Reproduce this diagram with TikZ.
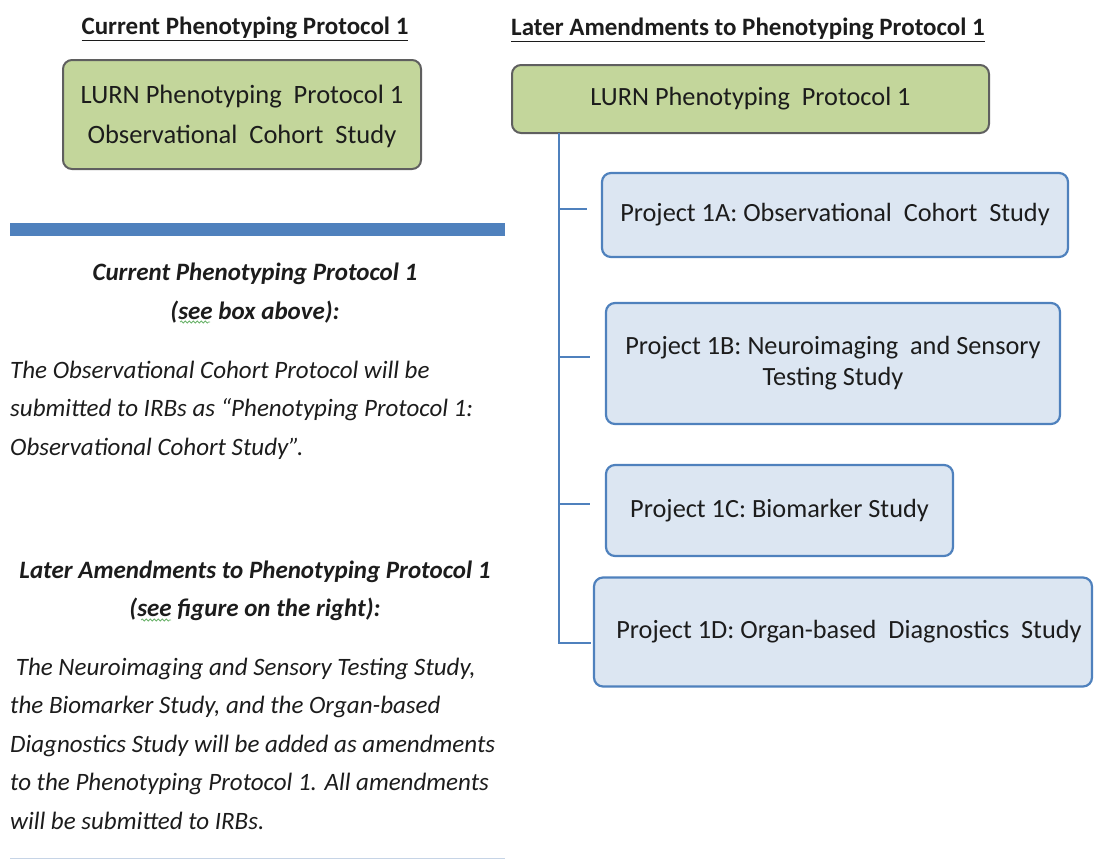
\documentclass[tikz,border=0pt]{standalone}
\usepackage{fontspec}
\setmainfont{Carlito}
\usetikzlibrary{decorations.pathmorphing}
\definecolor{boxgreen}{HTML}{C3D69B}
\definecolor{boxgray}{HTML}{5F5F5F}
\definecolor{boxblue}{HTML}{DCE6F2}
\definecolor{lineblue}{HTML}{4F81BD}
\definecolor{rulegray}{HTML}{C6D4E6}
\definecolor{inkblack}{HTML}{1C1C1C}
\definecolor{spellgreen}{HTML}{6BB36B}
\tikzset{
  protocol/.style={draw=boxgray, line width=2pt, fill=boxgreen, rounded corners=9pt,
    text=inkblack, align=center, font=\fontsize{26.5}{40}\selectfont},
  project/.style={draw=lineblue, line width=2.2pt, fill=boxblue, rounded corners=9pt,
    text=inkblack, align=center, font=\fontsize{26.3}{31}\selectfont},
  branch/.style={draw=lineblue, line width=2.6pt},
  heading/.style={text=inkblack, font=\fontsize{25}{28}\selectfont\bfseries, inner sep=0pt},
  note/.style={text=inkblack, inner sep=0pt, align=left,
    font=\fontsize{25}{38.4}\selectfont\itshape},
  notehead/.style={text=inkblack, inner sep=0pt, align=center,
    font=\fontsize{25}{38.4}\selectfont\bfseries\itshape},
  spell/.style={draw=spellgreen, line width=0.8pt,
    decorate, decoration={snake, amplitude=1pt, segment length=4pt}}
}
\begin{document}
\begin{tikzpicture}[x=1pt,y=-1pt]
  \useasboundingbox (0,0) rectangle (1094,860);
  % headings
  \node[heading] (curhead) at (245,29) {\underline{Current Phenotyping Protocol 1}};
  \node[heading] (laterhead) at (748,30) {\underline{Later Amendments to Phenotyping Protocol 1}};
  % current protocol box
  \path[protocol] (63,60) rectangle (421,169);
  \node[text=inkblack, align=center, font=\fontsize{26.5}{40}\selectfont] (curbox) at (242,116)
    {LURN Phenotyping \ Protocol 1\\Observational \ Cohort \ Study};
  % separator bar
  \fill[lineblue] (10,223) rectangle (505,236);
  % notes on the left
  \node[notehead] (curnote) at (255,293) {Current Phenotyping Protocol 1\\(see box above):};
  \node[note, anchor=north west] (curtext) at (10,361)
    {The Observational Cohort Protocol will be\\
     submitted to IRBs as ``Phenotyping Protocol 1:\\
     Observational Cohort Study''.};
  \node[notehead] (laternote) at (255,591) {Later Amendments to Phenotyping Protocol 1\\(see figure on the right):};
  \node[note, anchor=north west] (latertext) at (10,658)
    {\ The Neuroimaging and Sensory Testing Study,\\
     the Biomarker Study, and the Organ-based\\
     Diagnostics Study will be added as amendments\\
     to the Phenotyping Protocol 1. All amendments\\
     will be submitted to IRBs.};
  % spell-check marks under "see"
  \draw[spell] (180,322) -- (210,322);
  \draw[spell] (141,620) -- (171,620);
  % bottom rule
  \draw[rulegray, line width=1.2pt] (10,858.5) -- (505,858.5);
  % protocol tree on the right
  \node[protocol, minimum width=477pt, minimum height=68pt, font=\fontsize{26.3}{31}\selectfont]
    (root) at (750.5,99) {LURN Phenotyping \ Protocol 1};
  \node[project, minimum width=466pt, minimum height=84pt] (p1A) at (835,215)
    {Project 1A: Observational \ Cohort \ Study};
  \node[project, minimum width=454pt, minimum height=121pt] (p1B) at (833,363.5)
    {Project 1B: Neuroimaging \ and Sensory\\Testing Study};
  \node[project, minimum width=347pt, minimum height=91pt] (p1C) at (779.5,510.5)
    {Project 1C: Biomarker Study};
  \node[project, minimum width=498pt, minimum height=109pt] (p1D) at (843,632)
    {\hspace*{12pt}Project 1D: Organ-based \ Diagnostics \ Study};
  \coordinate (trunk) at (559,133);
  \draw[branch] (trunk) |- ([xshift=-2pt]p1D.west |- 0,643);
  \draw[branch] (trunk |- 0,209) -- (587,209);
  \draw[branch] (trunk |- 0,357) -- (590,357);
  \draw[branch] (trunk |- 0,504) -- (590,504);
\end{tikzpicture}
\end{document}
